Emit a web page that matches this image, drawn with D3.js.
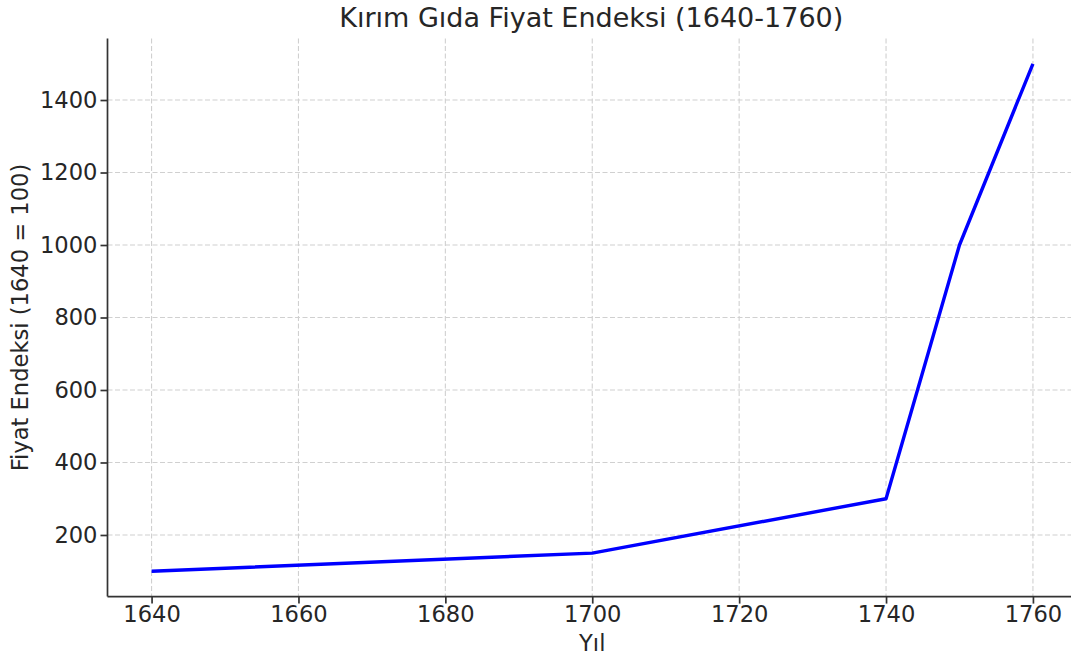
<!DOCTYPE html>
<html>
<head>
<meta charset="utf-8">
<script src="https://cdn.jsdelivr.net/npm/d3@7"></script>
<style>
  html, body { margin: 0; padding: 0; background: #fff; overflow: hidden; }
  svg { display: block; font-family: "DejaVu Sans", sans-serif; }
</style>
</head>
<body>
<svg id="chart" width="1071" height="659"></svg>
<script>
const years = [1640, 1700, 1740, 1750, 1760];
const priceIndex = [100, 150, 300, 1000, 1500];
const xTicks = [1640, 1660, 1680, 1700, 1720, 1740, 1760];
const yTicks = [200, 400, 600, 800, 1000, 1200, 1400];
const titleText = "Kırım Gıda Fiyat Endeksi (1640-1760)";
const xLabelText = "Yıl";
const yLabelText = "Fiyat Endeksi (1640 = 100)";

(function () {
const svg = d3.select("#chart");
const pLeft = 107.5, pRight = 1077, pTop = 38.4, pBottom = 596.6;
const fs = "22.6px";

const x = d3.scaleLinear().domain([1634, 1766]).range([pLeft, pRight]);
const y = d3.scaleLinear().domain([30, 1570]).range([pBottom, pTop]);

// grid
const grid = svg.append("g");
grid.selectAll("line.gx").data(xTicks).join("line")
  .attr("x1", d => x(d)).attr("x2", d => x(d))
  .attr("y1", pTop).attr("y2", pBottom)
  .attr("stroke", "#d0d0d0").attr("stroke-width", 1.1).attr("stroke-dasharray", "5,2.5");
grid.selectAll("line.gy").data(yTicks).join("line")
  .attr("x1", pLeft).attr("x2", pRight)
  .attr("y1", d => y(d)).attr("y2", d => y(d))
  .attr("stroke", "#d0d0d0").attr("stroke-width", 1.1).attr("stroke-dasharray", "5,2.5");

// line
const line = d3.line().x((d, i) => x(years[i])).y(d => y(d));
svg.append("path").datum(priceIndex)
  .attr("d", line)
  .attr("fill", "none").attr("stroke", "#0000ff").attr("stroke-width", 3.4)
  .attr("stroke-linejoin", "round");

// axes
const xAxis = d3.axisBottom(x).tickValues(xTicks).tickFormat(d3.format("d")).tickSize(7).tickPadding(2.5);
const gx = svg.append("g").attr("transform", `translate(0,${pBottom})`).call(xAxis);
gx.select(".domain").attr("stroke", "#333").attr("stroke-width", 1.7).attr("d", `M${pLeft},0H${pRight}`);
gx.selectAll(".tick line").attr("stroke", "#333").attr("stroke-width", 1.7);
gx.selectAll(".tick text").attr("fill", "#262626").style("font-size", fs).style("font-family", "DejaVu Sans");

const yAxis = d3.axisLeft(y).tickValues(yTicks).tickFormat(d3.format("d")).tickSize(7).tickPadding(3);
const gy = svg.append("g").attr("transform", `translate(${pLeft},0)`).call(yAxis);
gy.select(".domain").attr("stroke", "#333").attr("stroke-width", 1.7).attr("d", `M0,${pTop}V${pBottom}`);
gy.selectAll(".tick line").attr("stroke", "#333").attr("stroke-width", 1.7);
gy.selectAll(".tick text").attr("fill", "#262626").style("font-size", fs).style("font-family", "DejaVu Sans");

const cx = (pLeft + pRight) / 2;
svg.append("text").attr("x", cx - 1).attr("y", 27).attr("text-anchor", "middle")
  .attr("fill", "#262626").style("font-size", "27px").text(titleText);
svg.append("text").attr("x", cx).attr("y", 651).attr("text-anchor", "middle")
  .attr("fill", "#262626").style("font-size", fs).text(xLabelText);
svg.append("text").attr("transform", `translate(28,${(pTop + pBottom) / 2}) rotate(-90)`)
  .attr("text-anchor", "middle")
  .attr("fill", "#262626").style("font-size", fs).text(yLabelText);
})();
</script>
</body>
</html>
